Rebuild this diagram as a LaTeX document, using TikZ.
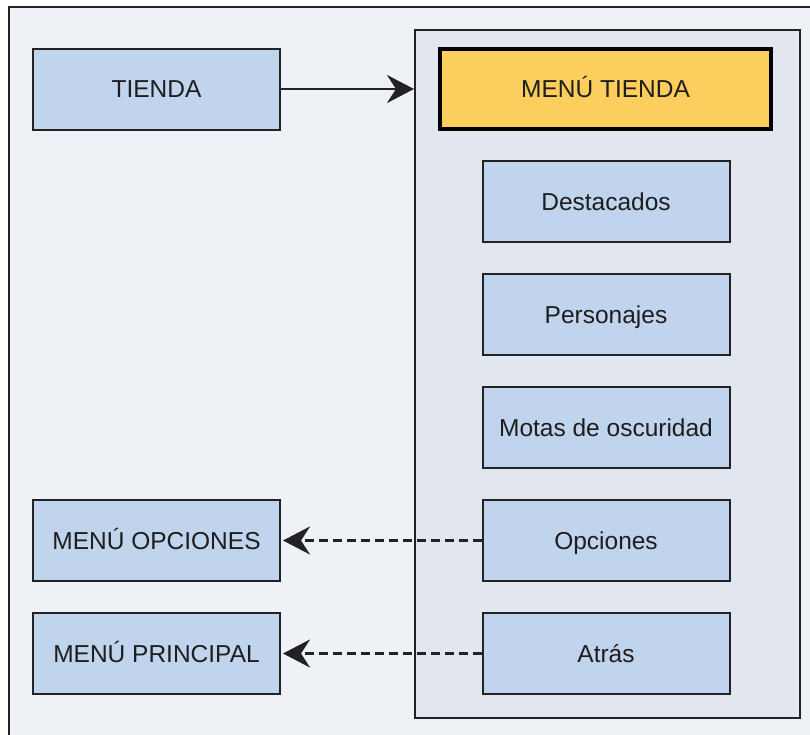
\documentclass[tikz,border=0pt]{standalone}
\usepackage{fontspec}
\setmainfont{Liberation Sans}
\usetikzlibrary{arrows.meta}
\definecolor{bgouter}{HTML}{EEF2F6}
\definecolor{bgcont}{HTML}{E2E7EF}
\definecolor{boxblue}{HTML}{C0D4EE}
\definecolor{boxyellow}{HTML}{FBCE5E}
\definecolor{txt}{HTML}{1E1E1E}
\definecolor{edge}{HTML}{222222}
\tikzset{
  bluebox/.style={draw=edge, line width=2pt, fill=boxblue, minimum width=247pt, minimum height=81pt,
    inner sep=0pt, text height=17.5pt, text depth=0pt, text=txt, font=\fontsize{24.5}{28}\selectfont},
  yellowbox/.style={draw=black, line width=4pt, fill=boxyellow, minimum width=331pt, minimum height=80pt,
    inner sep=0pt, text height=17.5pt, text depth=0pt, text=txt, font=\fontsize{24.5}{28}\selectfont},
  container/.style={draw=edge, line width=2pt, fill=bgcont, minimum width=385pt, minimum height=688pt, inner sep=0pt},
  conn/.style={draw=edge, line width=2.8pt, -{Stealth[length=27pt,width=28pt,inset=9pt]}},
  dconn/.style={conn, dash pattern=on 9pt off 5pt}
}
\begin{document}
\begin{tikzpicture}[x=1pt,y=-1pt]
\useasboundingbox (0,0) rectangle (810,734);
\fill[white] (0,0) rectangle (810,734);
\clip (0,0) rectangle (810,734);
\draw[draw=edge, line width=1.5pt, fill=bgouter] (9,7) rectangle (840,760);
\node[container] (cont) at (607.5,374) {};
\node[bluebox] (tienda) at (156.5,89) {TIENDA};
\node[yellowbox] (menutienda) at (605.5,89) {MENÚ TIENDA};
\node[bluebox] (destacados) at (606,201.5) {Destacados};
\node[bluebox] (personajes) at (606,314.5) {Personajes};
\node[bluebox] (motas) at (606,427.5) {Motas de oscuridad};
\node[bluebox] (opciones) at (606,540.5) {Opciones};
\node[bluebox] (atras) at (606,653.5) {Atrás};
\node[bluebox] (menuopc) at (156.5,540.5) {MENÚ OPCIONES};
\node[bluebox] (menuprin) at (156.5,653.5) {MENÚ PRINCIPAL};
\draw[conn] (tienda.east) -- (tienda.east -| cont.west);
\draw[dconn] (opciones.west) -- ([xshift=2pt]menuopc.east);
\draw[dconn] (atras.west) -- ([xshift=2pt]menuprin.east);
\end{tikzpicture}
\end{document}
